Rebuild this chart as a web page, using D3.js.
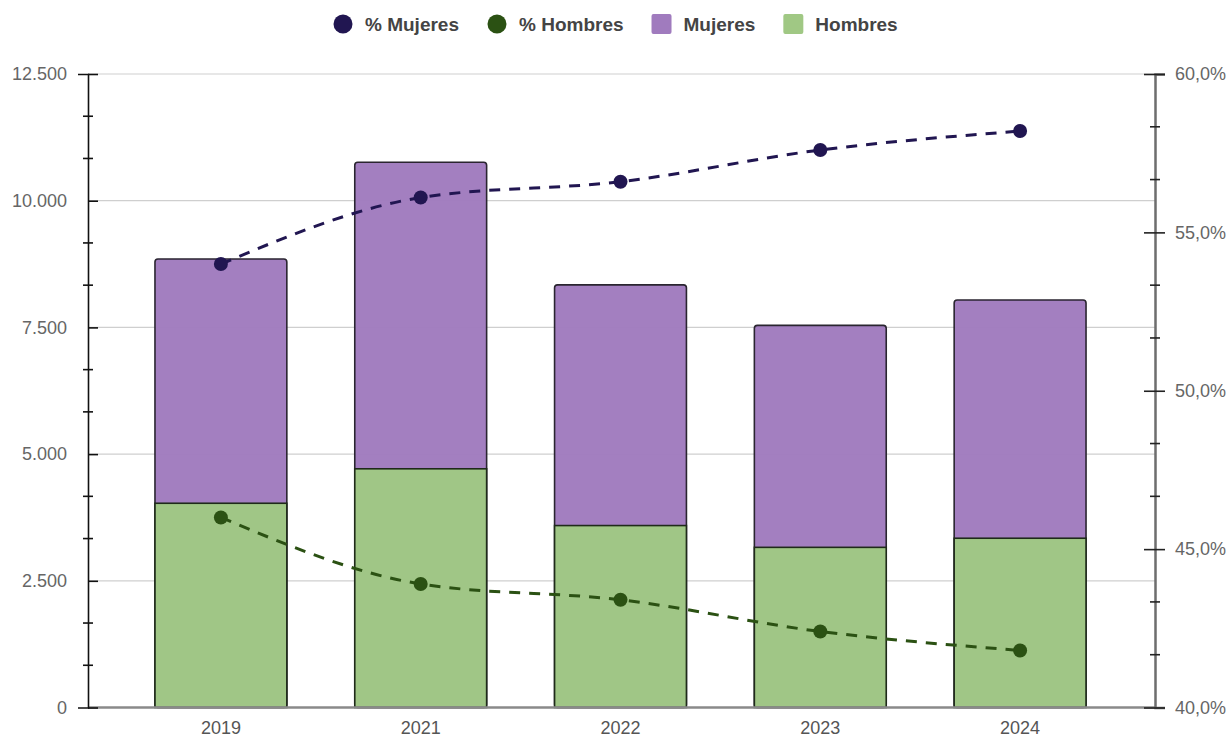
<!DOCTYPE html>
<html>
<head>
<meta charset="utf-8">
<script src="https://cdn.jsdelivr.net/npm/d3@7"></script>
<style>
  body { margin: 0; background: #fff; }
  svg { display: block; font-family: "Liberation Sans", Arial, sans-serif; }
</style>
</head>
<body>
<svg width="1231" height="737"></svg>
<script>
const years = ['2019', '2021', '2022', '2023', '2024'];
const hombres = [4030, 4710, 3590, 3160, 3340];
const mujeres = [4820, 6050, 4750, 4380, 4700];
const pctMujeres = [54.0, 56.1, 56.6, 57.6, 58.2];
const pctHombres = [46.0, 43.9, 43.4, 42.4, 41.8];
const leftTicks = [0, 2500, 5000, 7500, 10000, 12500];
const rightTicks = [40, 45, 50, 55, 60];

const colors = {pctMujeres: '#211651',
                pctHombres: '#2b5113',
                mujeres: '#a07bbe',
                hombres: '#a0c884'};

const W = 1231, H = 737;
const plot = {left: 88, right: 1155, top: 74, bottom: 707.5};

const loc = d3.formatLocale({decimal: ',', thousands: '.', grouping: [3], currency: ['', '€']});
const fmtNum = loc.format(',d');
const fmtPct = d => loc.format('.1f')(d) + '%';

const svg = d3.select('svg');

//--------------SCALES---------------------------------------
const x = d3.scaleBand()
            .domain(years)
            .range([121, 1120])
            .paddingInner(0.34)
            .paddingOuter(0.17);

const y = d3.scaleLinear()
            .domain([0, 12500])
            .range([plot.bottom, plot.top]);

const yp = d3.scaleLinear()
             .domain([40, 60])
             .range([plot.bottom, plot.top]);

//--------------GRID----------------------------------------
svg.append('g')
   .selectAll('line')
   .data(leftTicks.slice(1))
   .join('line')
     .attr('x1', plot.left)
     .attr('x2', plot.right)
     .attr('y1', d => y(d))
     .attr('y2', d => y(d))
     .attr('stroke', '#cfcfcf')
     .attr('stroke-width', 1.2);

//--------------BARS----------------------------------------
const bars = svg.append('g').attr('fill-opacity', 0.97);
const rows = years.map((yr, i) => ({year: yr, h: hombres[i], m: mujeres[i]}));

bars.selectAll('rect.muj')
    .data(rows)
    .join('rect')
      .attr('class', 'muj')
      .attr('x', d => x(d.year))
      .attr('width', x.bandwidth())
      .attr('y', d => y(d.h + d.m))
      .attr('height', d => y(0) - y(d.h + d.m))
      .attr('rx', 3)
      .attr('fill', colors.mujeres)
      .attr('stroke', '#2a2530')
      .attr('stroke-width', 1.6);

bars.selectAll('rect.hom')
    .data(rows)
    .join('rect')
      .attr('class', 'hom')
      .attr('x', d => x(d.year))
      .attr('width', x.bandwidth())
      .attr('y', d => y(d.h))
      .attr('height', d => y(0) - y(d.h))
      .attr('fill', colors.hombres)
      .attr('stroke', '#1f2a1a')
      .attr('stroke-width', 1.6);

//--------------AXES----------------------------------------
// baseline
svg.append('line')
   .attr('x1', plot.left).attr('x2', plot.right)
   .attr('y1', plot.bottom).attr('y2', plot.bottom)
   .attr('stroke', '#8a8a8a').attr('stroke-width', 2.5);

const axisL = svg.append('g')
   .attr('transform', `translate(${plot.left},0)`)
   .call(d3.axisLeft(y).tickValues(leftTicks).tickFormat(fmtNum).tickSize(10).tickPadding(11));
axisL.select('.domain').attr('stroke', '#111').attr('stroke-width', 1.6);
axisL.selectAll('.tick line').attr('x2', 10).attr('stroke', '#111').attr('stroke-width', 1.6);
axisL.selectAll('.tick text').attr('font-size', 18).attr('fill', '#666').attr('font-family', null);

const minorL = d3.range(0, 12500, 2500 / 3).filter((d, i) => i % 3 !== 0);
svg.append('g')
   .selectAll('line')
   .data(minorL)
   .join('line')
     .attr('x1', plot.left - 5).attr('x2', plot.left + 5)
     .attr('y1', d => y(d)).attr('y2', d => y(d))
     .attr('stroke', '#111').attr('stroke-width', 1.6);

const axisR = svg.append('g')
   .attr('transform', `translate(${plot.right},0)`)
   .call(d3.axisRight(yp).tickValues(rightTicks).tickFormat(fmtPct).tickSize(10).tickPadding(10));
axisR.select('.domain').attr('stroke', '#6e6e6e').attr('stroke-width', 2.5);
axisR.selectAll('.tick line').attr('x1', -11).attr('stroke', '#222').attr('stroke-width', 1.6);
axisR.selectAll('.tick text').attr('font-size', 18).attr('fill', '#666').attr('font-family', null);

const minorR = d3.range(40, 60, 5 / 3).filter((d, i) => i % 3 !== 0);
svg.append('g')
   .selectAll('line')
   .data(minorR)
   .join('line')
     .attr('x1', plot.right - 5).attr('x2', plot.right + 5)
     .attr('y1', d => yp(d)).attr('y2', d => yp(d))
     .attr('stroke', '#222').attr('stroke-width', 1.6);

const axisB = svg.append('g')
   .attr('transform', `translate(0,${plot.bottom})`)
   .call(d3.axisBottom(x).tickSize(0).tickPadding(14));
axisB.select('.domain').remove();
axisB.selectAll('.tick text').attr('font-size', 18).attr('fill', '#555').attr('font-family', null);

//--------------LINES----------------------------------------
const line = d3.line()
               .x((d, i) => x(years[i]) + x.bandwidth() / 2)
               .y(d => yp(d))
               .curve(d3.curveMonotoneX);

[['pctMujeres', pctMujeres], ['pctHombres', pctHombres]].forEach(([key, vals]) => {
  svg.append('path')
     .datum(vals)
     .attr('fill', 'none')
     .attr('stroke', colors[key])
     .attr('stroke-width', 3)
     .attr('stroke-dasharray', '11,9')
     .attr('d', line);
  svg.append('g')
     .selectAll('circle')
     .data(vals)
     .join('circle')
       .attr('cx', (d, i) => x(years[i]) + x.bandwidth() / 2)
       .attr('cy', d => yp(d))
       .attr('r', 7)
       .attr('fill', colors[key]);
});

//-------------LEGEND----------------------------------------------
const legendItems = [
  {label: '% Mujeres', color: colors.pctMujeres, shape: 'circle'},
  {label: '% Hombres', color: colors.pctHombres, shape: 'circle'},
  {label: 'Mujeres', color: colors.mujeres, shape: 'rect'},
  {label: 'Hombres', color: colors.hombres, shape: 'rect'}
];
const legend = svg.append('g').attr('transform', 'translate(0,24)');
let lx = 333;
legendItems.forEach(it => {
  const g = legend.append('g').attr('transform', `translate(${lx},0)`);
  if (it.shape === 'circle') {
    g.append('circle').attr('cx', 10).attr('cy', 0).attr('r', 9.5).attr('fill', it.color);
  } else {
    g.append('rect').attr('x', 0).attr('y', -10).attr('width', 20).attr('height', 20)
     .attr('rx', 2).attr('fill', it.color);
  }
  const t = g.append('text')
     .attr('x', 32).attr('y', 0).attr('dy', '0.35em')
     .attr('font-size', 19).attr('font-weight', 'bold').attr('fill', '#444')
     .text(it.label);
  lx += 32 + t.node().getComputedTextLength() + 28;
});
</script>
</body>
</html>
